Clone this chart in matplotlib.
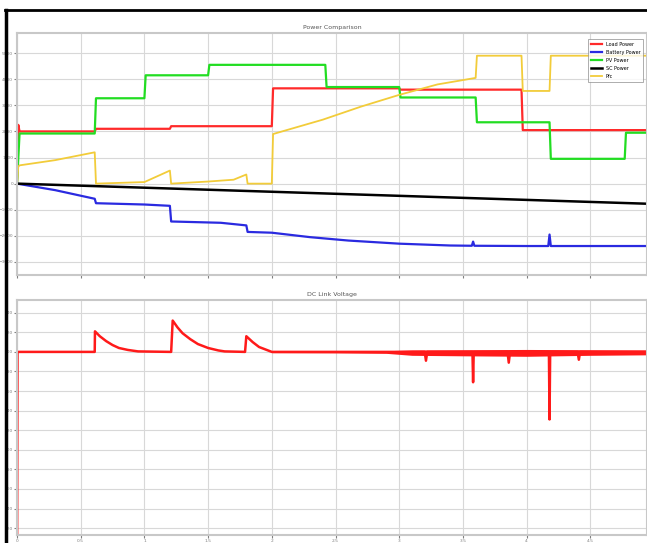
import matplotlib.pyplot as plt
from matplotlib.lines import Line2D

# Time breakpoints (s) and power values (W)
load_t = [0.0, 0.01, 0.02, 0.61, 0.62, 1.20, 1.21, 2.00, 2.01, 3.00, 3.01, 3.96, 3.97, 4.945]
load_p = [0, 2250, 2000, 2000, 2100, 2100, 2200, 2200, 3650, 3650, 3600, 3600, 2050, 2050]

batt_t = [0.0, 0.30, 0.61, 0.62, 1.00, 1.20, 1.21, 1.60, 1.80, 1.81, 2.00, 2.30, 2.60, 3.00, 3.40,
          3.57, 3.58, 3.59, 4.00, 4.17, 4.18, 4.19, 4.945]
batt_p = [0, -250, -580, -750, -800, -850, -1450, -1500, -1600, -1850, -1880, -2050, -2180, -2300, -2370,
          -2380, -2220, -2380, -2390, -2390, -1950, -2390, -2390]

pv_t = [0.0, 0.02, 0.61, 0.62, 1.00, 1.01, 1.50, 1.51, 2.42, 2.43, 3.00, 3.01, 3.60, 3.61, 4.18, 4.19, 4.77, 4.78, 4.945]
pv_p = [0, 1920, 1920, 3270, 3270, 4150, 4150, 4550, 4550, 3700, 3700, 3300, 3300, 2350, 2350, 950, 950, 1950, 1950]

sc_t = [0.0, 4.945]
sc_p = [0, -770]

fc_t = [0.0, 0.01, 0.02, 0.30, 0.61, 0.62, 1.00, 1.20, 1.21, 1.50, 1.70, 1.80, 1.81, 2.00, 2.01, 2.40,
        2.70, 3.00, 3.30, 3.60, 3.61, 3.96, 3.97, 4.18, 4.19, 4.945]
fc_p = [0, 650, 700, 900, 1200, 0, 60, 500, 0, 80, 150, 350, 0, 0, 1900, 2450, 2950, 3400, 3800, 4050,
        4900, 4900, 3550, 3550, 4900, 4900]

# DC link voltage trace (V)
vdc_t = [0.0, 0.004, 0.61, 0.612, 0.65, 0.70, 0.75, 0.80, 0.87, 0.95, 1.21, 1.222, 1.26, 1.30, 1.36,
         1.42, 1.50, 1.58, 1.63, 1.79, 1.80, 1.85, 1.90, 1.96, 2.00, 3.20, 3.21, 3.22, 3.575, 3.58, 3.585,
         3.85, 3.86, 3.87, 4.175, 4.18, 4.185, 4.40, 4.41, 4.42, 4.945]
vdc_v = [150, 400, 400, 421, 416, 411, 407, 404, 402, 400.5, 400, 432, 425, 419, 413,
         408, 404, 401.5, 400.5, 400, 416, 410, 405, 402, 400, 400, 391, 400, 400, 369, 400,
         400, 389, 400, 400, 331, 400, 400, 392, 400, 400]
# ripple envelope after t = 2 s
rip_t = [2.0, 2.5, 2.9, 3.1, 3.5, 4.0, 4.5, 4.945]
rip_hi = [400.8, 401, 401.2, 402, 402.2, 402.5, 402.2, 402]
rip_lo = [399.2, 399, 398.5, 396.5, 396, 395.5, 396.5, 397]

x_ticks = [0, 0.5, 1, 1.5, 2, 2.5, 3, 3.5, 4, 4.5]
x_labels = ["0", "0.5", "1", "1.5", "2", "2.5", "3", "3.5", "4", "4.5"]
p_ticks = [-3000, -2000, -1000, 0, 1000, 2000, 3000, 4000, 5000]
v_ticks = [220, 240, 260, 280, 300, 320, 340, 360, 380, 400, 420, 440]

W, H = 647, 543
fig = plt.figure(figsize=(W / 100, H / 100), dpi=100)
fig.patch.set_facecolor("white")


def fx(px):
    return px / W


def fy(py):
    return 1 - py / H


# page border lines from the screenshot
fig.add_artist(Line2D([fx(5), 1], [fy(10), fy(10)], color="black", lw=2))
fig.add_artist(Line2D([fx(6), fx(6)], [fy(10), 0], color="black", lw=2.5))


def style_axes(ax, title):
    ax.set_xlim(0, 4.945)
    ax.set_xticks(x_ticks)
    ax.grid(True, color="#d8d8d8", lw=0.8)
    ax.set_axisbelow(True)
    for s in ax.spines.values():
        s.set_color("#c8c8c8")
        s.set_linewidth(1.5)
    ax.tick_params(colors="#808080", labelsize=3.2, length=2, pad=0.8)
    ax.set_title(title, fontsize=4.5, color="#555555", pad=3)


# Power comparison
ax1 = fig.add_axes([fx(17), fy(275), 1 - fx(17), fy(33) - fy(275)])
style_axes(ax1, "Power Comparison")
ax1.set_ylim(-3500, 5770)
ax1.set_yticks(p_ticks)
ax1.set_xticklabels([])
ax1.plot(load_t, load_p, color="#ff2a2a", lw=1.6, label="Load Power")
ax1.plot(batt_t, batt_p, color="#2a2ae0", lw=1.6, label="Battery Power")
ax1.plot(pv_t, pv_p, color="#22dd22", lw=1.6, label="PV Power")
ax1.plot(sc_t, sc_p, color="black", lw=1.8, label="SC Power")
ax1.plot(fc_t, fc_p, color="#f2cc3a", lw=1.3, label="Pfc")
leg = ax1.legend(loc="upper right", fontsize=3.5, frameon=True, fancybox=False,
                 handlelength=2.2, borderpad=0.6, labelspacing=0.6, bbox_to_anchor=(0.998, 0.985))
leg.get_frame().set_edgecolor("#888888")
leg.get_frame().set_linewidth(0.6)

# DC link voltage
ax2 = fig.add_axes([fx(17), fy(535), 1 - fx(17), fy(300) - fy(535)])
style_axes(ax2, "DC Link Voltage")
ax2.set_ylim(213, 453)
ax2.set_yticks(v_ticks)
ax2.set_xticklabels(x_labels)
ax2.fill_between(rip_t, rip_lo, rip_hi, color="#ff1a1a", lw=0)
ax2.plot(vdc_t, vdc_v, color="#ff1a1a", lw=1.8)

fig.savefig("out.png", dpi=100)
